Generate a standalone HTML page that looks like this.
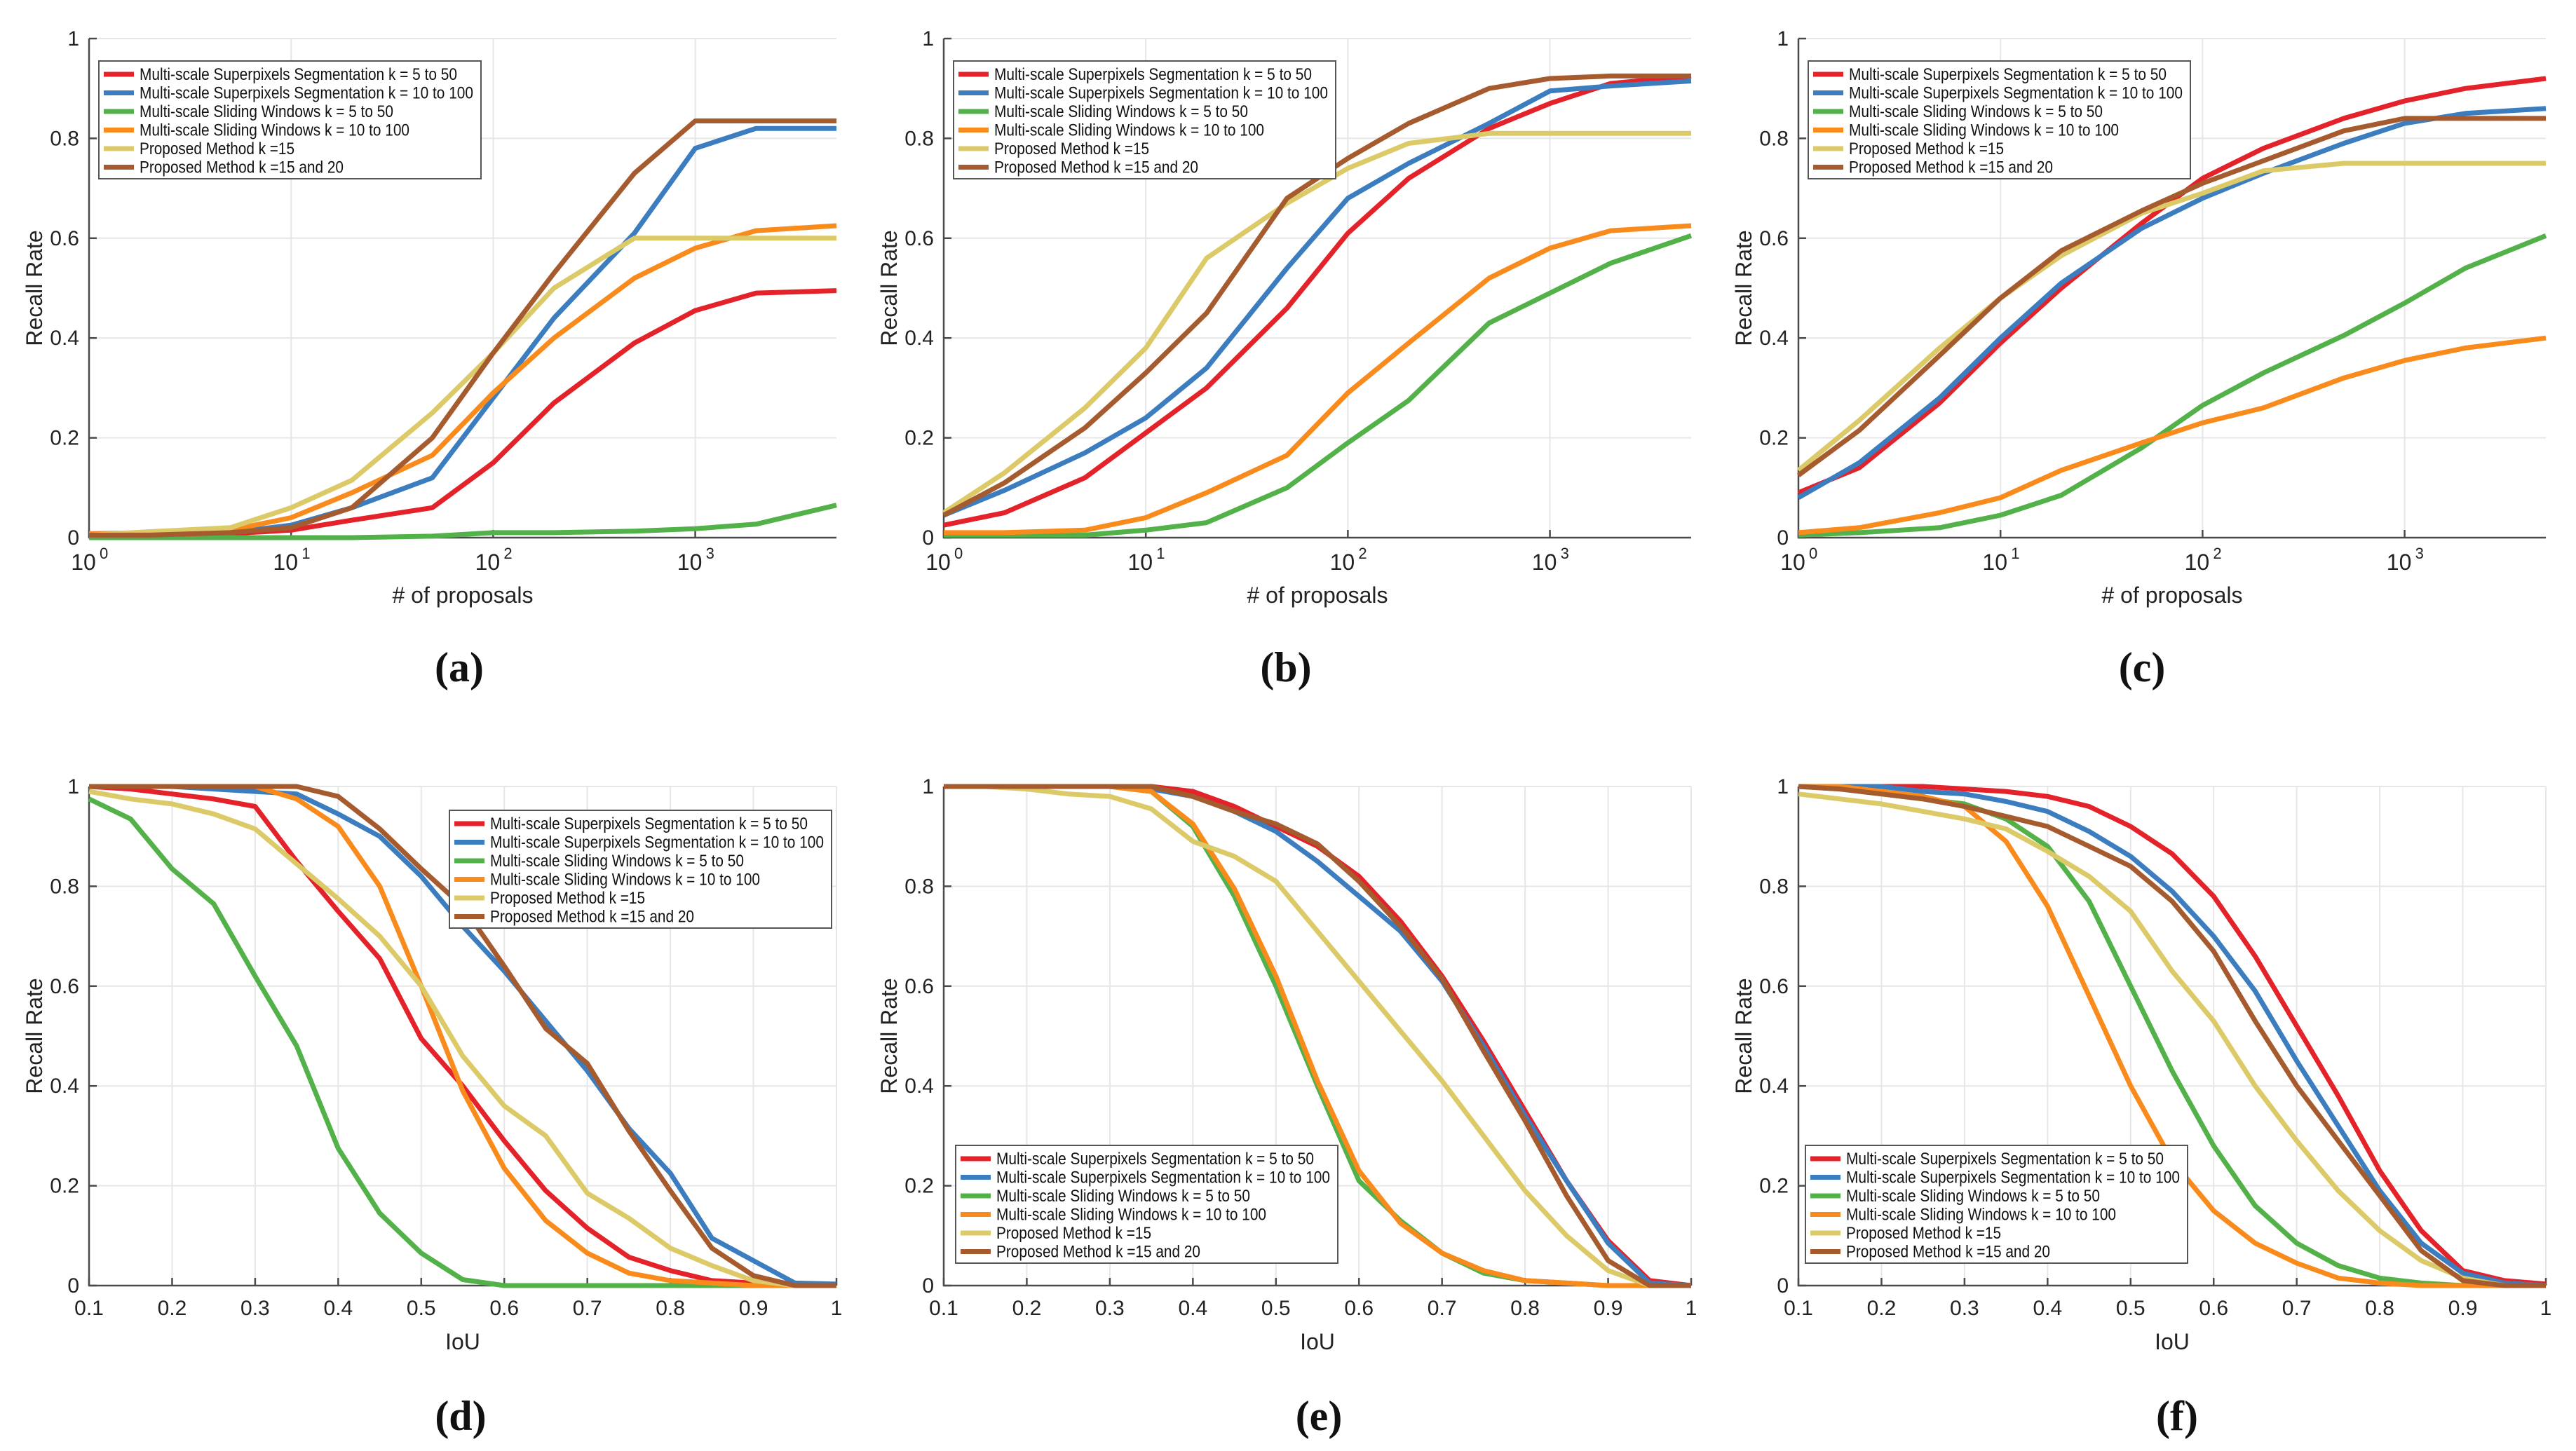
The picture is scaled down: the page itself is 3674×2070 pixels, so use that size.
<!DOCTYPE html>
<html><head><meta charset="utf-8">
<style>
html,body{margin:0;padding:0;background:#fff;}
svg{display:block;}
</style></head>
<body>
<svg id="fig" width="3674" height="2070" viewBox="0 0 3674 2070" xmlns="http://www.w3.org/2000/svg" font-family="Liberation Sans, sans-serif"></svg>
<script>
const seriesNames = ["Multi-scale Superpixels Segmentation k = 5 to 50","Multi-scale Superpixels Segmentation k = 10 to 100","Multi-scale Sliding Windows k = 5 to 50","Multi-scale Sliding Windows k = 10 to 100","Proposed Method k =15","Proposed Method k =15 and 20"];
const seriesKeys = ["mss-5-50","mss-10-100","msw-5-50","msw-10-100","proposed-15","proposed-15-20"];
const seriesColors = ["#e4222a","#3b7dbf","#52b148","#f98a1c","#dcca68","#a65b2f"];
const legendTextW = [453,476,362,385,221,291];
const proposals = [1,2,5,10,20,50,100,200,500,1000,2000,5000];
const iouValues = [0.1,0.15,0.2,0.25,0.3,0.35,0.4,0.45,0.5,0.55,0.6,0.65,0.7,0.75,0.8,0.85,0.9,0.95,1];
const yTicks = [0,0.2,0.4,0.6,0.8,1];
const yTickLabels = ["0","0.2","0.4","0.6","0.8","1"];
const logTicks = [1,10,100,1000];
const logTickExp = ["0","1","2","3"];
const iouTicks = [0.1,0.2,0.3,0.4,0.5,0.6,0.7,0.8,0.9,1];
const iouTickLabels = ["0.1","0.2","0.3","0.4","0.5","0.6","0.7","0.8","0.9","1"];

const aRed=[.005,.005,.008,.015,.035,.06,.15,.27,.39,.455,.49,.495];
const aBlue=[.005,.005,.01,.025,.06,.12,.28,.44,.61,.78,.82,.82];
const aGreen=[0,0,0,0,0,.003,.01,.01,.013,.018,.027,.065];
const aOrange=[.008,.01,.015,.04,.09,.165,.29,.4,.52,.58,.615,.625];
const aYellow=[.005,.012,.02,.06,.115,.25,.37,.5,.6,.6,.6,.6];
const aBrown=[.005,.005,.01,.02,.06,.2,.37,.53,.73,.835,.835,.835];

const bRed=[.025,.05,.12,.21,.3,.46,.61,.72,.82,.87,.91,.925];
const bBlue=[.045,.095,.17,.24,.34,.54,.68,.75,.83,.895,.905,.915];
const bGreen=[.005,.005,.005,.015,.03,.1,.19,.275,.43,.49,.55,.605];
const bOrange=[.01,.01,.015,.04,.09,.165,.29,.39,.52,.58,.615,.625];
const bYellow=[.05,.13,.26,.38,.56,.67,.74,.79,.81,.81,.81,.81];
const bBrown=[.045,.11,.22,.33,.45,.68,.76,.83,.9,.92,.925,.925];

const cRed=[.09,.14,.27,.39,.5,.63,.72,.78,.84,.875,.9,.92];
const cBlue=[.08,.15,.28,.40,.51,.62,.68,.73,.79,.83,.85,.86];
const cGreen=[.005,.01,.02,.045,.085,.18,.265,.33,.405,.47,.54,.605];
const cOrange=[.01,.02,.05,.08,.135,.19,.23,.26,.32,.355,.38,.4];
const cYellow=[.135,.235,.38,.48,.565,.65,.69,.735,.75,.75,.75,.75];
const cBrown=[.125,.215,.365,.48,.575,.655,.71,.755,.815,.84,.84,.84];

const dRed=[1,.995,.985,.975,.96,.85,.75,.655,.495,.4,.29,.19,.115,.057,.03,.01,.005,0,0];
const dBlue=[1,1,1,.995,.99,.985,.945,.9,.82,.72,.63,.53,.43,.315,.225,.095,.05,.005,.003];
const dGreen=[.975,.935,.835,.765,.62,.48,.275,.145,.065,.012,0,0,0,0,0,0,0,0,0];
const dOrange=[1,1,1,1,1,.975,.92,.8,.6,.39,.235,.13,.065,.025,.01,.005,0,0,0];
const dYellow=[.99,.975,.965,.945,.915,.845,.775,.7,.6,.46,.36,.3,.185,.135,.075,.04,.01,0,0];
const dBrown=[1,1,1,1,1,1,.98,.915,.835,.76,.64,.515,.445,.31,.19,.075,.02,0,0];

const eRed=[1,1,1,1,1,1,.99,.96,.92,.88,.82,.73,.62,.49,.35,.21,.09,.01,0];
const eBlue=[1,1,1,1,1,.995,.98,.95,.91,.85,.78,.71,.61,.48,.34,.21,.085,.005,0];
const eGreen=[1,1,1,1,1,.99,.92,.78,.6,.4,.21,.13,.065,.025,.01,.005,0,0,0];
const eOrange=[1,1,1,1,1,.99,.925,.795,.62,.41,.23,.125,.065,.03,.01,.005,0,0,0];
const eYellow=[1,1,.995,.985,.98,.955,.89,.86,.81,.71,.61,.51,.41,.3,.19,.1,.03,0,0];
const eBrown=[1,1,1,1,1,1,.98,.95,.925,.885,.81,.72,.615,.47,.33,.18,.05,0,0];

const fRed=[1,1,1,1,.995,.99,.98,.96,.92,.865,.78,.66,.52,.38,.23,.11,.03,.01,.003];
const fBlue=[1,1,1,.99,.985,.97,.95,.91,.86,.79,.7,.59,.45,.32,.19,.085,.025,.005,0];
const fGreen=[1,.995,.985,.975,.965,.935,.88,.77,.6,.43,.28,.16,.085,.04,.015,.005,0,0,0];
const fOrange=[1,1,.99,.98,.96,.89,.76,.58,.4,.25,.15,.085,.045,.015,.005,0,0,0,0];
const fYellow=[.985,.975,.965,.95,.935,.915,.87,.82,.75,.63,.53,.4,.29,.19,.11,.05,.015,0,0];
const fBrown=[1,.995,.985,.975,.96,.94,.92,.88,.84,.77,.67,.53,.4,.29,.18,.07,.01,0,0];

const NS="http://www.w3.org/2000/svg";
const svg=document.getElementById('fig');
function mk(tag,attrs,parent){const e=document.createElementNS(NS,tag);for(const k in attrs)e.setAttribute(k,attrs[k]);(parent||svg).appendChild(e);return e;}

const panels=[
 {id:'a',kind:'log',x0:127,y0:55,data:[aRed,aBlue,aGreen,aOrange,aYellow,aBrown],lg:[14,32],cx:0},
 {id:'b',kind:'log',x0:1346,y0:55,data:[bRed,bBlue,bGreen,bOrange,bYellow,bBrown],lg:[14,32],cx:-40},
 {id:'c',kind:'log',x0:2565,y0:55,data:[cRed,cBlue,cGreen,cOrange,cYellow,cBrown],lg:[14,32],cx:-38},
 {id:'d',kind:'iou',x0:127,y0:1122,data:[dRed,dBlue,dGreen,dOrange,dYellow,dBrown],lg:[514,34],cx:2},
 {id:'e',kind:'iou',x0:1346,y0:1122,data:[eRed,eBlue,eGreen,eOrange,eYellow,eBrown],lg:[17,512],cx:7},
 {id:'f',kind:'iou',x0:2565,y0:1122,data:[fRed,fBlue,fGreen,fOrange,fYellow,fBrown],lg:[10,512],cx:12}
];
const W=1066,H=712;

panels.forEach(p=>{
  const g=mk('g',{});
  
  
  const xs = p.kind==='log' ? (v=>p.x0+Math.log10(v)/Math.log10(5000)*W) : (v=>p.x0+(v-0.1)/0.9*W);
  const ys = v=>p.y0+H-v*H;
  const gx = p.kind==='log'?logTicks:iouTicks;
  gx.forEach(t=>{const l=mk('line',{x1:xs(t),x2:xs(t),y1:p.y0,y2:p.y0+H,stroke:'#e6e6e6','stroke-width':2},g);
    });
  yTicks.forEach(t=>{const l=mk('line',{x1:p.x0,x2:p.x0+W,y1:ys(t),y2:ys(t),stroke:'#e6e6e6','stroke-width':2},g);
    });
  const ax=mk('path',{d:`M${p.x0},${p.y0} V${p.y0+H} H${p.x0+W}`,fill:'none',stroke:'#4a4a4a','stroke-width':2.5},g);
  
  yTicks.forEach((t,i)=>{
    mk('line',{x1:p.x0,x2:p.x0+11,y1:ys(t),y2:ys(t),stroke:'#4a4a4a','stroke-width':2.5},g);
    const tx=mk('text',{x:p.x0-14,y:ys(t)+10,'font-size':30,'text-anchor':'end',fill:'#222'},g);
    tx.textContent=yTickLabels[i];
    
  });
  if(p.kind==='log'){
    logTicks.forEach((t,i)=>{
      mk('line',{x1:xs(t),x2:xs(t),y1:p.y0+H,y2:p.y0+H-11,stroke:'#4a4a4a','stroke-width':2.5},g);
      const tx=mk('text',{x:xs(t)-8,y:p.y0+H+46,'font-size':32,'text-anchor':'middle',fill:'#222'},g);
      tx.textContent='10';
      
      const sp=mk('text',{x:xs(t)+15,y:p.y0+H+30,'font-size':22,fill:'#222'},g);
      sp.textContent=logTickExp[i];
      
    });
  } else {
    iouTicks.forEach((t,i)=>{
      mk('line',{x1:xs(t),x2:xs(t),y1:p.y0+H,y2:p.y0+H-11,stroke:'#4a4a4a','stroke-width':2.5},g);
      const tx=mk('text',{x:xs(t),y:p.y0+H+42,'font-size':30,'text-anchor':'middle',fill:'#222'},g);
      tx.textContent=iouTickLabels[i];
      
    });
  }
  const xl=mk('text',{x:p.x0+W/2,y:p.kind==='log'?p.y0+H+93:p.y0+H+91,'font-size':32,'text-anchor':'middle',fill:'#222'},g);
  xl.textContent=p.kind==='log'?'# of proposals':'IoU';
  
  const yl=mk('text',{x:0,y:0,'font-size':32,'text-anchor':'middle',fill:'#222',transform:`translate(${p.x0-67},${p.y0+H/2}) rotate(-90)`},g);
  yl.textContent='Recall Rate';
  
  const xv = p.kind==='log'?proposals:iouValues;
  p.data.forEach((arr,si)=>{
    const d=arr.map((v,i)=>(i?'L':'M')+xs(xv[i]).toFixed(1)+','+ys(v).toFixed(1)).join(' ');
    const pl=mk('path',{d:d,fill:'none',stroke:seriesColors[si],'stroke-width':7,'stroke-linejoin':'round'},g);
    
    
  });
  const lx=p.x0+p.lg[0], ly=p.y0+p.lg[1];
  const lgG=mk('g',{},g);
  
  mk('rect',{x:lx,y:ly,width:545,height:168,fill:'#fff',stroke:'#555','stroke-width':2},lgG);
  seriesNames.forEach((n,i)=>{
    const cy=ly+19+i*26.5;
    const e=mk('g',{},lgG);
    
    mk('line',{x1:lx+7,x2:lx+50,y1:cy,y2:cy,stroke:seriesColors[i],'stroke-width':7},e);
    const t=mk('text',{x:lx+58,y:cy+8,'font-size':24,fill:'#111',textLength:legendTextW[i],lengthAdjust:'spacingAndGlyphs'},e);
    t.textContent=n;
  });
  const cap=mk('text',{x:p.x0+W/2-5+p.cx,y:p.kind==='log'?972:2040,'font-size':60,'font-weight':'bold','text-anchor':'middle',fill:'#111'},g);
  cap.setAttribute('style','font-family:"Liberation Serif",serif');
  cap.textContent='('+p.id+')';
  
});
</script>
</body></html>
